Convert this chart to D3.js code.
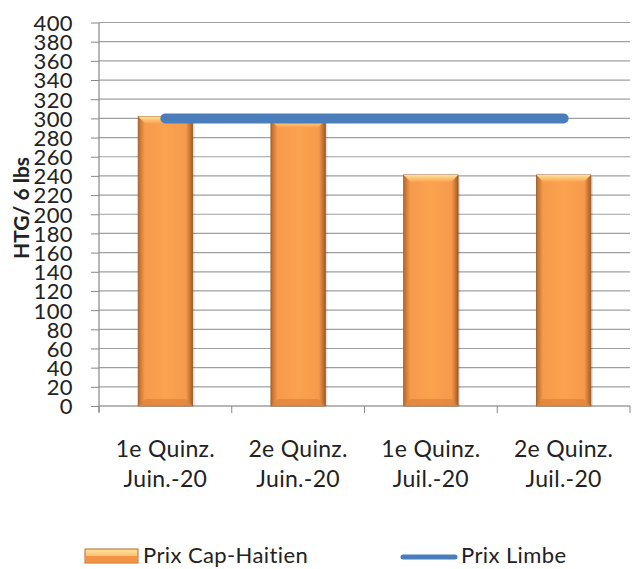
<!DOCTYPE html>
<html>
<head>
<meta charset="utf-8">
<script src="https://cdn.jsdelivr.net/npm/d3@7"></script>
<style>
  body { margin: 0; background: #fff; }
  text { font-family: Lato, "Open Sans", sans-serif; fill: #222; }
</style>
</head>
<body>
<svg width="632" height="569"></svg>
<script>
// chart data
const categories = [["1e Quinz.", "Juin.-20"], ["2e Quinz.", "Juin.-20"], ["1e Quinz.", "Juil.-20"], ["2e Quinz.", "Juil.-20"]];
const prixCap = [302, 298, 241, 241];
const prixLimbe = [300, 300, 300, 300];
const yTicks = d3.range(0, 401, 20);

const svg = d3.select('svg');
const plotL = 99, plotR = 630, plotT = 22.5, plotB = 406;

const x = d3.scaleBand().domain(d3.range(categories.length)).range([plotL, plotR]).paddingInner(0.59).paddingOuter(0.295);
const y = d3.scaleLinear().domain([0, 400]).range([plotB, plotT]);

// gradient for the bevelled bars
const defs = svg.append('defs');
const g1 = defs.append('linearGradient').attr('id', 'barGrad').attr('x1', 0).attr('x2', 1).attr('y1', 0).attr('y2', 0);
[[0, '#b8682a'], [0.12, '#f69a4c'], [0.5, '#fba24f'], [0.88, '#f69a4c'], [1, '#a85c22']].forEach(s => {
  g1.append('stop').attr('offset', s[0]).attr('stop-color', s[1]);
});
const g2 = defs.append('linearGradient').attr('id', 'topGrad').attr('x1', 0).attr('x2', 0).attr('y1', 0).attr('y2', 1);
g2.append('stop').attr('offset', 0).attr('stop-color', '#fde39a');
g2.append('stop').attr('offset', 1).attr('stop-color', '#fba24f');

// gridlines
svg.append('g').selectAll('line').data(yTicks).enter().append('line')
  .attr('x1', plotL).attr('x2', plotR)
  .attr('y1', d => y(d)).attr('y2', d => y(d))
  .attr('stroke', '#a0a0a0').attr('stroke-width', 1.2);

// y axis
const yAxis = svg.append('g').attr('transform', `translate(${plotL},0)`)
  .call(d3.axisLeft(y).tickValues(yTicks).tickSize(8).tickPadding(18));
yAxis.select('.domain').attr('stroke', '#888').attr('stroke-width', 1.2).attr('d', `M0,${plotT}V${plotB + 6}`);
yAxis.selectAll('.tick line').attr('stroke', '#888');
yAxis.selectAll('.tick text').style('font-size', '22px').style('letter-spacing', '0.4px').attr('fill', '#222').attr('dy', '0.36em');

// x axis
const xAxis = svg.append('g').attr('transform', `translate(0,${plotB})`);
xAxis.append('line').attr('x1', plotL).attr('x2', plotR).attr('y1', 0).attr('y2', 0).attr('stroke', '#a0a0a0').attr('stroke-width', 1.2);
xAxis.selectAll('.xt').data(d3.range(categories.length + 1)).enter().append('line')
  .attr('x1', i => plotL + i * (plotR - plotL) / categories.length)
  .attr('x2', i => plotL + i * (plotR - plotL) / categories.length)
  .attr('y1', 0).attr('y2', 7).attr('stroke', '#888');
const xl = svg.append('g').selectAll('text').data(categories).enter().append('text')
  .attr('text-anchor', 'middle')
  .style('font-size', '23px').style('letter-spacing', '0.3px').attr('fill', '#222');
xl.append('tspan').attr('x', (d, i) => x(i) + x.bandwidth() / 2).attr('y', 457).text(d => d[0]);
xl.append('tspan').attr('x', (d, i) => x(i) + x.bandwidth() / 2).attr('y', 487).text(d => d[1]);

// bars
const bars = svg.append('g').selectAll('g').data(prixCap).enter().append('g');
bars.append('rect')
  .attr('x', (d, i) => x(i) + 2).attr('y', d => y(d) + 2)
  .attr('width', x.bandwidth()).attr('height', d => plotB - y(d) - 2)
  .attr('fill', '#000').attr('opacity', 0.12);
bars.append('rect')
  .attr('x', (d, i) => x(i)).attr('y', d => y(d))
  .attr('width', x.bandwidth()).attr('height', d => plotB - y(d))
  .attr('fill', 'url(#barGrad)').attr('stroke', '#9a5a25').attr('stroke-width', 0.8);
bars.append('path')
  .attr('d', (d, i) => {
    const x0 = x(i), w = x.bandwidth(), t = y(d);
    return `M${x0},${t}H${x0 + w}L${x0 + w - 7},${t + 7}H${x0 + 7}Z`;
  })
  .attr('fill', 'url(#topGrad)');
bars.append('path')
  .attr('d', (d, i) => {
    const x0 = x(i), w = x.bandwidth();
    return `M${x0},${plotB}H${x0 + w}L${x0 + w - 7},${plotB - 7}H${x0 + 7}Z`;
  })
  .attr('fill', '#e0843c').attr('opacity', 0.8);

// line
const line = d3.line().x((d, i) => x(i) + x.bandwidth() / 2).y(d => y(d));
svg.append('path').datum(prixLimbe)
  .attr('d', line).attr('fill', 'none')
  .attr('stroke', '#4a7ebb').attr('stroke-width', 10).attr('stroke-linecap', 'round');

// y axis title
svg.append('text')
  .attr('transform', 'translate(29,208) rotate(-90)')
  .attr('text-anchor', 'middle')
  .style('font-size', '21px').style('font-weight', 'bold').attr('fill', '#111')
  .text('HTG/ 6 lbs');

// legend
const lg = svg.append('g');
lg.append('rect').attr('x', 85).attr('y', 549).attr('width', 53).attr('height', 14).attr('fill', 'url(#topGrad)').attr('stroke', '#b8682a');
lg.append('rect').attr('x', 85.5).attr('y', 556).attr('width', 52).attr('height', 6.5).attr('fill', '#f29446');
lg.append('text').attr('x', 143).attr('y', 563).style('font-size', '22px').style('letter-spacing', '0.4px').text('Prix Cap-Haitien');
lg.append('line').attr('x1', 403).attr('x2', 455).attr('y1', 557).attr('y2', 557)
  .attr('stroke', '#4a7ebb').attr('stroke-width', 5).attr('stroke-linecap', 'round');
lg.append('text').attr('x', 461).attr('y', 563).style('font-size', '22px').style('letter-spacing', '0.4px').text('Prix Limbe');
</script>
</body>
</html>
